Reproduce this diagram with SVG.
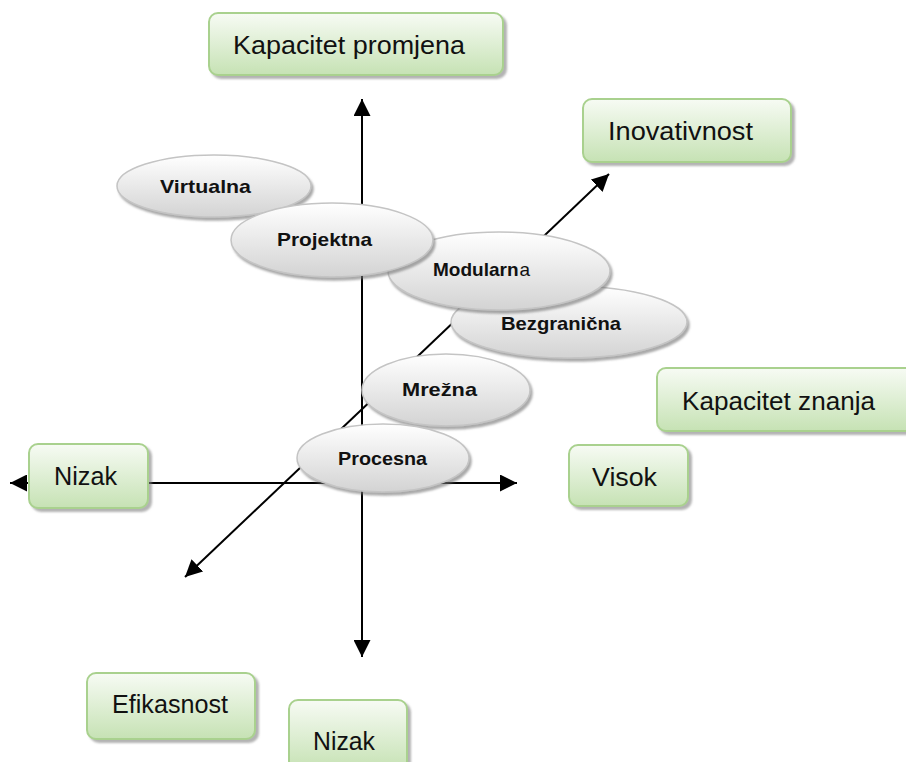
<svg xmlns="http://www.w3.org/2000/svg" width="906" height="762" viewBox="0 0 906 762">
<defs>
  <linearGradient id="gBox" x1="0" y1="0" x2="0" y2="1">
    <stop offset="0" stop-color="#f7fbf4"/>
    <stop offset="1" stop-color="#c6e2b4"/>
  </linearGradient>
  <linearGradient id="gEll" x1="0" y1="0" x2="0" y2="1">
    <stop offset="0" stop-color="#ffffff"/>
    <stop offset="1" stop-color="#d3d3d3"/>
  </linearGradient>
  <filter id="shBox" x="-10%" y="-20%" width="130%" height="150%">
    <feDropShadow dx="3" dy="3" stdDeviation="1.2" flood-color="#808080" flood-opacity="0.6"/>
  </filter>
  <filter id="shEll" x="-10%" y="-20%" width="130%" height="150%">
    <feDropShadow dx="2" dy="3" stdDeviation="1.2" flood-color="#707070" flood-opacity="0.6"/>
  </filter>
  <marker id="arr" viewBox="0 0 10 10" refX="10" refY="5" markerWidth="8.5" markerHeight="8.5" markerUnits="strokeWidth" orient="auto">
    <path d="M0,0 L10,5 L0,10 Z" fill="#000"/>
  </marker>
</defs>
<style>
  .box { fill: url(#gBox); stroke: #a9d18e; stroke-width: 2; filter: url(#shBox); }
  .ell { fill: url(#gEll); stroke: #c4c4c4; stroke-width: 1.5; filter: url(#shEll); }
  .bt { font-family: "Liberation Sans", Arial, sans-serif; font-size: 25px; fill: #111; }
  .et { font-family: "Liberation Sans", Arial, sans-serif; font-size: 19px; font-weight: bold; fill: #111; }
  .en { font-family: "Liberation Sans", Arial, sans-serif; font-size: 19px; font-weight: normal; fill: #111; }
  .ax { stroke: #000; stroke-width: 2; fill: none; marker-end: url(#arr); }
</style>

<g id="connectors">
  <line class="ax" x1="362" y1="483" x2="362" y2="99"/>
  <line class="ax" x1="362" y1="483" x2="362" y2="657"/>
  <line class="ax" x1="148" y1="483" x2="517" y2="483"/>
  <line class="ax" x1="30" y1="483" x2="10" y2="483"/>
  <line class="ax" x1="397" y1="376" x2="609" y2="174"/>
  <line class="ax" x1="397" y1="376" x2="185" y2="577"/>
</g>

<g id="node-kapacitet-promjena">
  <rect class="box" x="209" y="13" width="294" height="62" rx="9"/>
  <text class="bt" x="233" y="54" textLength="232" lengthAdjust="spacingAndGlyphs">Kapacitet promjena</text>
</g>
<g id="node-inovativnost">
  <rect class="box" x="583" y="99" width="208" height="63" rx="9"/>
  <text class="bt" x="608" y="140" textLength="145" lengthAdjust="spacingAndGlyphs">Inovativnost</text>
</g>
<g id="node-kapacitet-znanja">
  <rect class="box" x="657" y="368" width="260" height="63" rx="9"/>
  <text class="bt" x="682" y="410" textLength="193" lengthAdjust="spacingAndGlyphs">Kapacitet znanja</text>
</g>
<g id="node-visok">
  <rect class="box" x="569" y="445" width="119" height="61" rx="9"/>
  <text class="bt" x="592" y="486" textLength="65" lengthAdjust="spacingAndGlyphs">Visok</text>
</g>
<g id="node-nizak-left">
  <rect class="box" x="29" y="444" width="119" height="64" rx="9"/>
  <text class="bt" x="54" y="485" textLength="63" lengthAdjust="spacingAndGlyphs">Nizak</text>
</g>
<g id="node-efikasnost">
  <rect class="box" x="87" y="673" width="168" height="66" rx="9"/>
  <text class="bt" x="112" y="713" textLength="116" lengthAdjust="spacingAndGlyphs">Efikasnost</text>
</g>
<g id="node-nizak-bottom">
  <rect class="box" x="289" y="700" width="118" height="70" rx="9"/>
  <text class="bt" x="313" y="750" textLength="62" lengthAdjust="spacingAndGlyphs">Nizak</text>
</g>

<g id="node-mrezna">
  <ellipse class="ell" cx="446" cy="390" rx="84" ry="36"/>
  <text class="et" x="402" y="396" textLength="75" lengthAdjust="spacingAndGlyphs">Mrežna</text>
</g>
<g id="node-bezgranicna">
  <ellipse class="ell" cx="569" cy="322" rx="118" ry="36"/>
  <text class="et" x="501" y="330" textLength="120" lengthAdjust="spacingAndGlyphs">Bezgranična</text>
</g>
<g id="node-modularna">
  <ellipse class="ell" cx="499" cy="271" rx="111" ry="39"/>
  <text class="et" x="433" y="276">Modularn</text>
  <text class="en" x="519.5" y="276">a</text>
</g>
<g id="node-virtualna">
  <ellipse class="ell" cx="214" cy="186" rx="97" ry="31"/>
  <text class="et" x="160" y="193" textLength="91" lengthAdjust="spacingAndGlyphs">Virtualna</text>
</g>
<g id="node-projektna">
  <ellipse class="ell" cx="332" cy="240" rx="101" ry="37"/>
  <text class="et" x="277" y="246" textLength="95" lengthAdjust="spacingAndGlyphs">Projektna</text>
</g>
<g id="node-procesna">
  <ellipse class="ell" cx="383" cy="458" rx="86" ry="34"/>
  <text class="et" x="338" y="465" textLength="89" lengthAdjust="spacingAndGlyphs">Procesna</text>
</g>
</svg>
